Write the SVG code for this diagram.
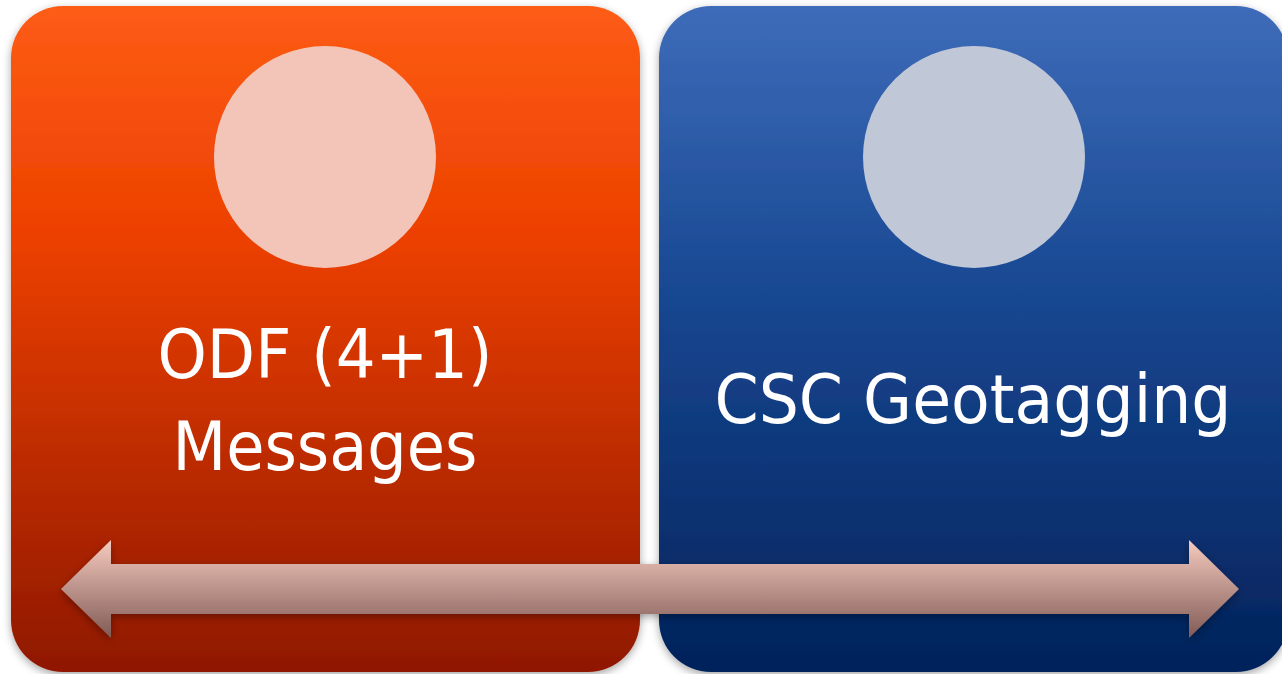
<svg xmlns="http://www.w3.org/2000/svg" width="1282" height="674" viewBox="0 0 1282 674">
<defs>
<linearGradient id="gOrange" x1="0" y1="0" x2="0" y2="1">
<stop offset="0" stop-color="#fd5c15"/>
<stop offset="0.35" stop-color="#ec4000"/>
<stop offset="1" stop-color="#8f1800"/>
</linearGradient>
<linearGradient id="gBlue" x1="0" y1="0" x2="0" y2="1">
<stop offset="0" stop-color="#3e6cb9"/>
<stop offset="0.45" stop-color="#174690"/>
<stop offset="1" stop-color="#03225a"/>
</linearGradient>
<linearGradient id="gArrow" x1="0" y1="0" x2="0" y2="1">
<stop offset="0" stop-color="#f6cbbf"/>
<stop offset="1" stop-color="#805a55"/>
</linearGradient>
<filter id="shadow" x="-10%" y="-10%" width="120%" height="120%">
<feDropShadow dx="0" dy="3" stdDeviation="4" flood-color="#000" flood-opacity="0.35"/>
</filter>
<style>
.lbl{font-family:"DejaVu Sans","Liberation Sans",sans-serif;font-size:67px;fill:#ffffff;text-anchor:middle}
</style>
</defs>
<rect width="1282" height="674" fill="#ffffff"/>
<g id="node-odf">
<rect x="11" y="6" width="629" height="666" rx="52" fill="url(#gOrange)" filter="url(#shadow)"/>
<circle cx="325" cy="157" r="111" fill="#f3c5b9"/>
<text class="lbl" x="325" y="378" textLength="335" lengthAdjust="spacingAndGlyphs">ODF (4+1)</text>
<text class="lbl" x="325" y="470" textLength="305" lengthAdjust="spacingAndGlyphs">Messages</text>
</g>
<g id="node-csc">
<rect x="659" y="6" width="629" height="666" rx="52" fill="url(#gBlue)" filter="url(#shadow)"/>
<circle cx="974" cy="157" r="111" fill="#c0c7d7"/>
<text class="lbl" x="973" y="423" textLength="517" lengthAdjust="spacingAndGlyphs">CSC Geotagging</text>
</g>
<g id="connectors">
<path d="M61,589 L111,540 L111,564 L1189,564 L1189,540 L1239,589 L1189,638 L1189,614 L111,614 L111,638 Z" fill="url(#gArrow)" filter="url(#shadow)"/>
</g>
</svg>
